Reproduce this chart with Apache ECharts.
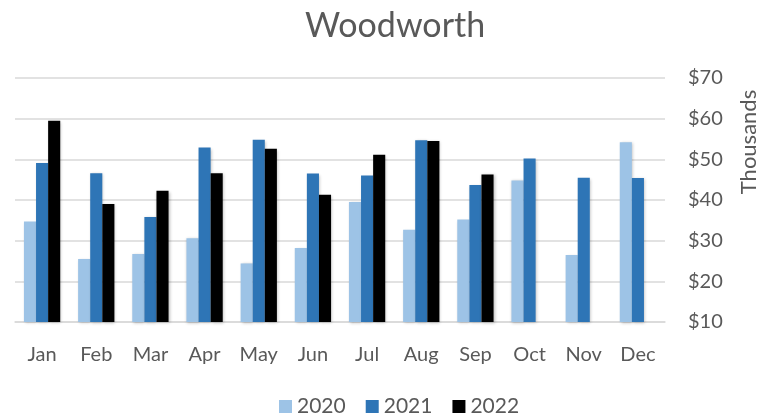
<!DOCTYPE html>
<html><head><meta charset="utf-8">
<script src="https://cdn.jsdelivr.net/npm/echarts@6/dist/echarts.min.js"></script>
<style>html,body{margin:0;padding:0;background:#fff}#c{width:762px;height:417px}</style>
</head><body><div id="c"></div>
<script>
var categories = ['Jan','Feb','Mar','Apr','May','Jun','Jul','Aug','Sep','Oct','Nov','Dec'];
var s2020 = [34.7,25.5,26.7,30.6,24.4,28.2,39.5,32.7,35.2,44.8,26.5,54.2];
var s2021 = [49.1,46.6,35.8,52.9,54.8,46.5,46.0,54.7,43.7,50.2,45.5,45.4];
var s2022 = [59.5,39.0,42.3,46.6,52.6,41.3,51.1,54.5,46.3,null,null,null];
var yTicks = [10,20,30,40,50,60,70];
var F = "Lato, 'Open Sans', sans-serif";
var C = '#595959';
var chart = echarts.init(document.getElementById('c'));
function bar(name, data, color){
  return {name:name,type:'bar',data:data,barGap:'0%',barCategoryGap:'33%',
    itemStyle:{color:color,shadowColor:'rgba(0,0,0,0.25)',shadowBlur:3,shadowOffsetX:1,shadowOffsetY:1},
    emphasis:{disabled:true}};
}
chart.setOption({
  animation:false,
  title:{text:'Woodworth',left:300,top:4,textStyle:{fontFamily:F,fontSize:34,fontWeight:'normal',color:C}},
  legend:{bottom:-5,left:274,itemWidth:13,itemHeight:13,itemGap:20,icon:'rect',
    textStyle:{fontFamily:F,fontSize:21,color:C},data:['2020','2021','2022']},
  grid:{left:15,right:97,top:78,bottom:95},
  graphic:[{type:'text',x:749,y:142,rotation:Math.PI/2,
    style:{text:'Thousands',fontFamily:F,fontSize:22,fill:C,align:'center',verticalAlign:'middle'}}],
  xAxis:{type:'category',data:categories,
    axisLine:{lineStyle:{color:'#d9d9d9',width:1.5}},axisTick:{show:false},
    axisLabel:{fontFamily:F,fontSize:20,color:C,margin:23}},
  yAxis:{type:'value',position:'right',min:yTicks[0],max:yTicks[yTicks.length-1],interval:10,
    axisLine:{show:false},axisTick:{show:false},
    splitLine:{lineStyle:{color:'#d9d9d9',width:1.5}},
    axisLabel:{fontFamily:F,fontSize:20,color:C,margin:23,formatter:function(v){return '$'+v;}}},
  series:[bar('2020',s2020,'#9DC3E6'),bar('2021',s2021,'#2E75B6'),bar('2022',s2022,'#000000')]
});
</script></body></html>
